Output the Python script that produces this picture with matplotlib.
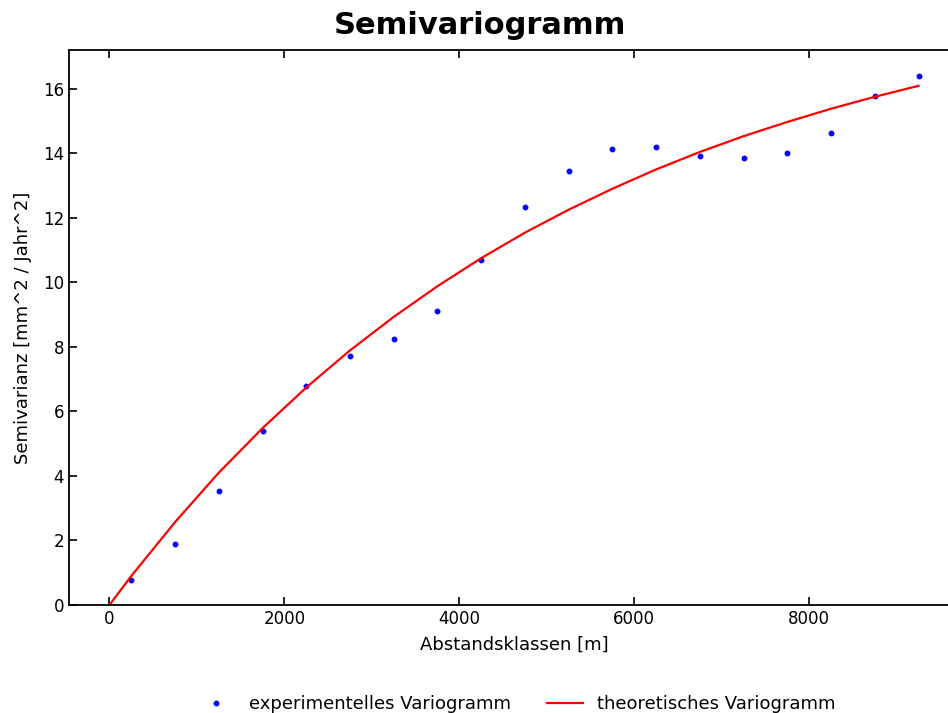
import matplotlib
matplotlib.use("Agg")
import matplotlib.pyplot as plt

lag_centers = [250, 750, 1250, 1750, 2250, 2750, 3250, 3750, 4250, 4750,
               5250, 5750, 6250, 6750, 7250, 7750, 8250, 8750, 9250]
exp_gamma = [0.78, 1.88, 3.52, 5.38, 6.78, 7.72, 8.24, 9.10, 10.70, 12.33,
             13.45, 14.12, 14.18, 13.90, 13.85, 14.02, 14.63, 15.78, 16.38]
theo_h = [0, 250, 750, 1250, 1750, 2250, 2750, 3250, 3750, 4250, 4750,
          5250, 5750, 6250, 6750, 7250, 7750, 8250, 8750, 9250]
theo_gamma = [0.0, 0.90, 2.57, 4.10, 5.48, 6.74, 7.89, 8.93, 9.88, 10.75, 11.54,
              12.25, 12.90, 13.50, 14.04, 14.53, 14.97, 15.38, 15.75, 16.09]
xticks = [0, 2000, 4000, 6000, 8000]
yticks = [0, 2, 4, 6, 8, 10, 12, 14, 16]

W, H = 948, 713
fig = plt.figure(figsize=(W / 100, H / 100), dpi=100)
ax = fig.add_axes([69 / W, 1 - 605 / H, (959 - 69) / W, (605 - 50) / H])

ax.plot(lag_centers, exp_gamma, 'o', color='blue', markersize=3.2,
        label='experimentelles Variogramm')
ax.plot(theo_h, theo_gamma, '-', color='red', linewidth=1.6,
        label='theoretisches Variogramm')

ax.set_xlim(-462.5, 9712.5)
ax.set_ylim(0, 17.2)
ax.set_xticks(xticks)
ax.set_yticks(yticks)
ax.tick_params(direction='in', top=True, right=False, length=6, width=1.2,
               labelsize=12)
for s in ax.spines.values():
    s.set_linewidth(1.3)
ax.set_xlabel('Abstandsklassen [m]', fontsize=13, labelpad=6)
ax.set_ylabel('Semivarianz [mm^2 / Jahr^2]', fontsize=13, labelpad=8)

fig.text(480 / W, 1 - 26 / H, 'Semivariogramm', ha='center', va='center',
         fontsize=22, fontweight='bold')

fig.legend(loc='center', bbox_to_anchor=(517 / W, 1 - 704 / H), ncol=2,
           frameon=False, fontsize=13, columnspacing=2.0)

fig.savefig('out.png', dpi=100)
